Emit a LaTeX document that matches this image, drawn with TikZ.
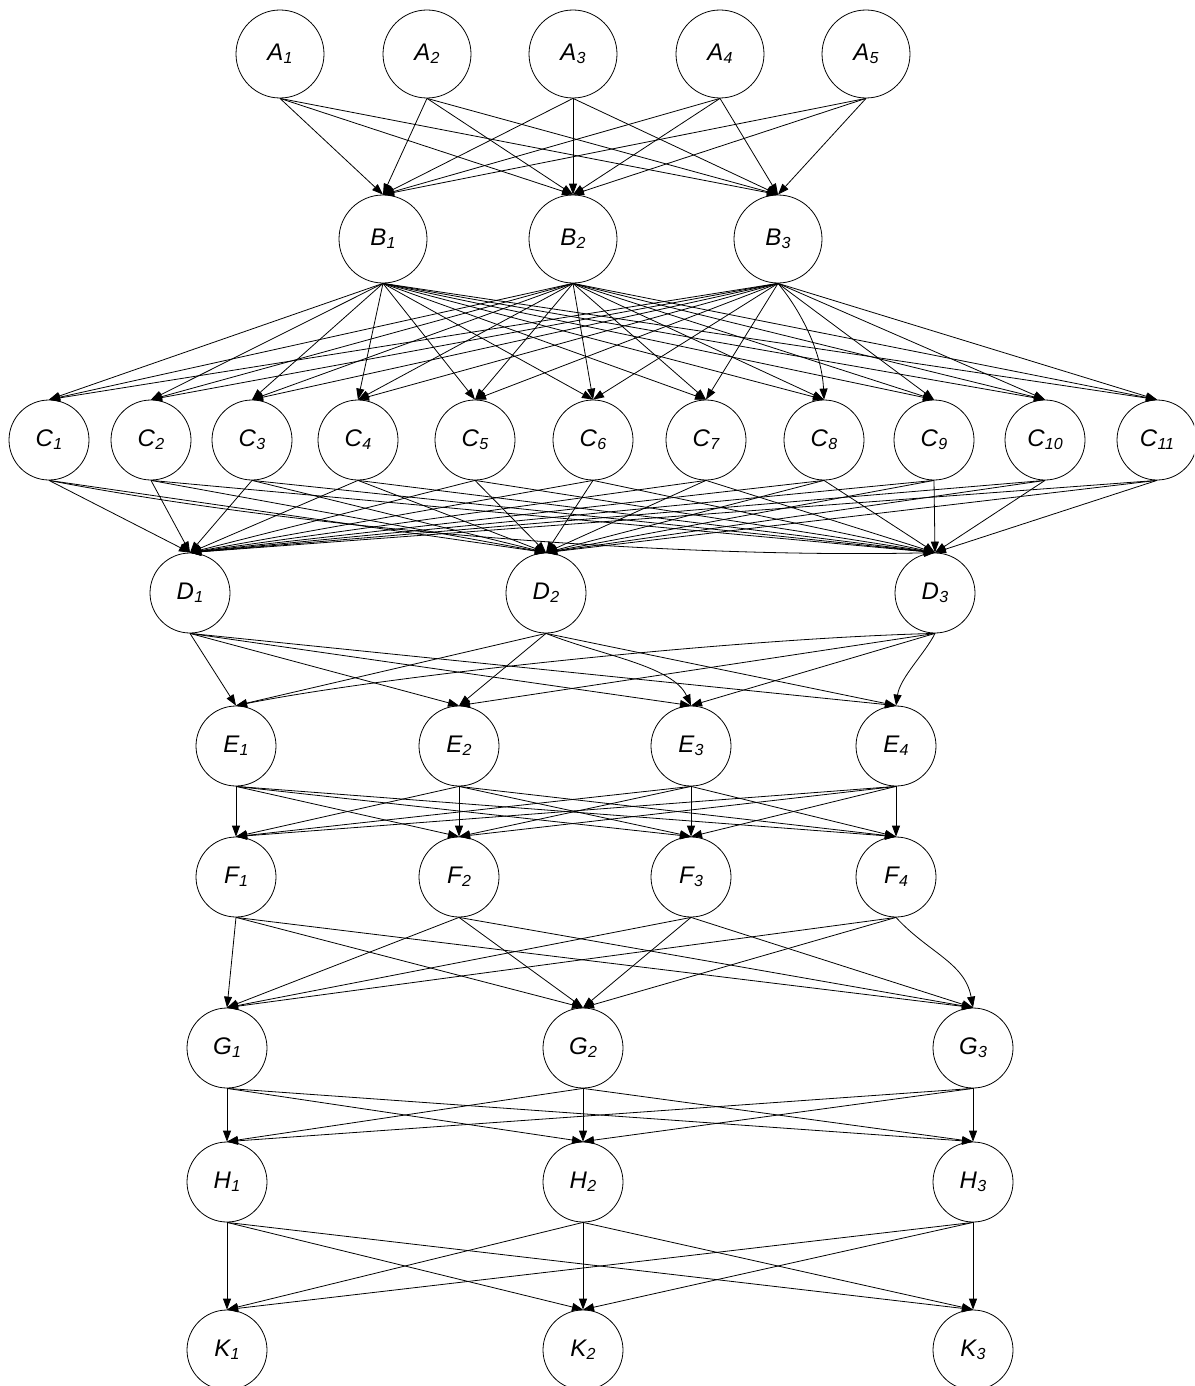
\documentclass[tikz,border=0pt]{standalone}
\usepackage{fontspec}
\setmainfont{Liberation Sans}
\usetikzlibrary{arrows.meta}
\newcommand{\lbl}[2]{{\fontsize{24}{24}\selectfont\itshape #1\kern0.3pt\raisebox{-3pt}{\fontsize{16}{16}\selectfont #2}}}
\begin{document}
\begin{tikzpicture}[x=1pt,y=-1pt,
  nd/.style={circle,draw,line width=0.8pt,inner sep=0pt,minimum size=80pt},
  bignd/.style={nd,minimum size=88pt},
  edge/.style={line width=0.8pt,-{Triangle[length=11pt,width=8pt]}}]
\useasboundingbox (0,0) rectangle (1194,1386);
\clip (0,0) rectangle (1194,1386);
% nodes
\foreach \x [count=\i] in {280,427,573,720,866}
  \node[bignd] (A\i) at (\x,54) {\lbl{A}{\i}};
\foreach \x [count=\i] in {383,573,778}
  \node[bignd] (B\i) at (\x,239) {\lbl{B}{\i}};
\foreach \x [count=\i] in {49,151,252,358,475,593,706,824,934,1045,1157}
  \node[nd] (C\i) at (\x,440) {\lbl{C}{\i}};
\foreach \x [count=\i] in {190,546,935}
  \node[nd] (D\i) at (\x,593) {\lbl{D}{\i}};
\foreach \x [count=\i] in {236,459,691,896}
  \node[nd] (E\i) at (\x,746) {\lbl{E}{\i}};
\foreach \x [count=\i] in {236,459,691,896}
  \node[nd] (F\i) at (\x,877) {\lbl{F}{\i}};
\foreach \x [count=\i] in {227,583,973}
  \node[nd] (G\i) at (\x,1048) {\lbl{G}{\i}};
\foreach \x [count=\i] in {227,583,973}
  \node[nd] (H\i) at (\x,1182) {\lbl{H}{\i}};
\foreach \x [count=\i] in {227,583,973}
  \node[nd] (K\i) at (\x,1350) {\lbl{K}{\i}};
% edges A -> B
\foreach \i in {1,...,5} \foreach \j in {1,2,3}
  \draw[edge] (A\i.south) -- (B\j.north);
% edges B -> C
\foreach \i in {1,2,3} \foreach \j in {1,...,11}{
  \ifnum\i=3 \ifnum\j=8 \else
    \draw[edge] (B\i.south) -- (C\j.north);
  \fi\else
    \draw[edge] (B\i.south) -- (C\j.north);
  \fi}
\draw[edge] (B3.south) .. controls +(25,30) and +(-2,-45) .. (C8.north);
% edges C -> D
\foreach \i in {1,...,11} \foreach \j in {1,2,3}{
  \ifnum\i=1 \ifnum\j=3 \else
    \draw[edge] (C\i.south) -- (D\j.north);
  \fi\else
    \draw[edge] (C\i.south) -- (D\j.north);
  \fi}
\draw[edge] (C1.south) .. controls +(260,50) and +(-260,6) .. (D3.north);
% edges D -> E
\foreach \j in {1,...,4}
  \draw[edge] (D1.south) -- (E\j.north);
\foreach \j in {1,2,4}
  \draw[edge] (D2.south) -- (E\j.north);
\draw[edge] (D2.south) .. controls +(55,22) and +(-18,-40) .. (E3.north);
\foreach \j in {2,3}
  \draw[edge] (D3.south) -- (E\j.north);
\draw[edge] (D3.south) .. controls +(-200,5) and +(150,-30) .. (E1.north);
\draw[edge] (D3.south) .. controls +(-10,20) and +(4,-28) .. (E4.north);
% edges E -> F
\foreach \i in {1,...,4} \foreach \j in {1,...,4}
  \draw[edge] (E\i.south) -- (F\j.north);
% edges F -> G
\foreach \i in {1,2,3} \foreach \j in {1,2,3}
  \draw[edge] (F\i.south) -- (G\j.north);
\foreach \j in {1,2}
  \draw[edge] (F4.south) -- (G\j.north);
\draw[edge] (F4.south) .. controls +(32,35) and +(-8,-45) .. (G3.north);
% edges G -> H
\foreach \i in {1,2,3} \foreach \j in {1,2,3}
  \draw[edge] (G\i.south) -- (H\j.north);
% edges H -> K
\foreach \i in {1,2,3} \foreach \j in {1,2,3}
  \draw[edge] (H\i.south) -- (K\j.north);
\end{tikzpicture}
\end{document}
